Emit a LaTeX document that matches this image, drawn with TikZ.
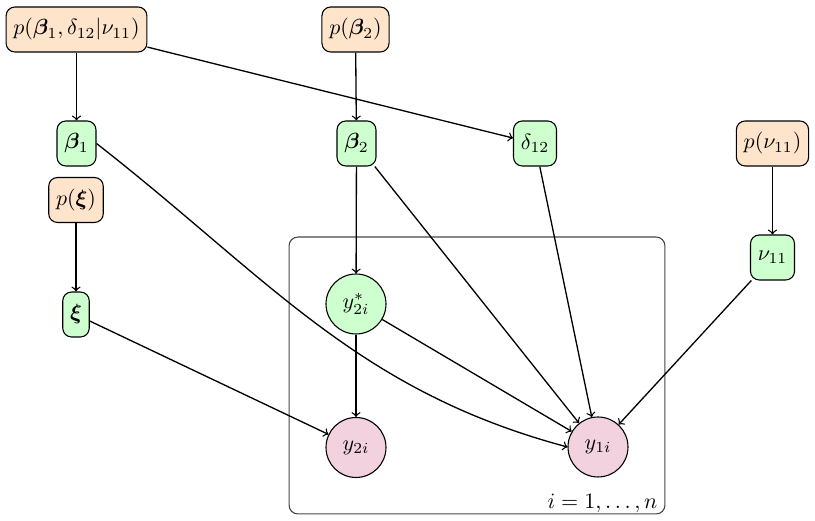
\documentclass[tikz,border=0pt]{standalone}
\usepackage{bm}
\usetikzlibrary{arrows}
\definecolor{priorc}{RGB}{255,228,204}
\definecolor{paramc}{RGB}{206,255,206}
\definecolor{obsc}{RGB}{243,210,223}
\definecolor{platec}{RGB}{70,70,70}
\tikzset{
  prior/.style={draw, rectangle, rounded corners=4pt, fill=priorc, minimum height=0.72cm, inner sep=0.3333em, line width=0.5pt},
  param/.style={draw, rectangle, rounded corners=4pt, fill=paramc, minimum height=0.72cm, inner sep=0.3333em, line width=0.5pt},
  latent/.style={draw, circle, fill=paramc, minimum size=0.96cm, inner sep=0pt, line width=0.5pt},
  obs/.style={draw, circle, fill=obsc, minimum size=0.96cm, inner sep=0pt, line width=0.5pt},
  plate/.style={draw=platec, rectangle, rounded corners=4pt, line width=0.5pt, minimum width=6.016cm, minimum height=4.432cm},
  conn/.style={->, line width=0.6pt}
}
\begin{document}
\begin{tikzpicture}[x=0.016cm, y=-0.016cm]
\useasboundingbox (0,0) rectangle (815,521);
\node[plate] (plate) at (477,375.5) {};
\node[anchor=south east, inner xsep=3.5pt, inner ysep=0.6pt] (platelab) at (plate.south east) {$i=1,\ldots,n$};
\node[prior] (pb1) at (76.5,29.5) {$p(\bm{\beta}_1,\delta_{12}|\nu_{11})$};
\node[prior] (pb2) at (355.5,29.5) {$p(\bm{\beta}_2)$};
\node[prior] (pxi) at (76,200) {$p(\bm{\xi})$};
\node[prior] (pnu) at (772.5,143.5) {$p(\nu_{11})$};
\node[param] (b1) at (76.5,143.5) {$\bm{\beta}_1$};
\node[param] (b2) at (356.5,143.5) {$\bm{\beta}_2$};
\node[param] (d12) at (535,143.5) {$\delta_{12}$};
\node[param] (nu) at (772.5,257.5) {$\nu_{11}$};
\node[param] (xi) at (76,314.5) {$\bm{\xi}$};
\node[latent] (ys) at (356,304) {$y_{2i}^{*}$};
\node[obs] (y2) at (356,447.5) {$y_{2i}$};
\node[obs] (y1) at (598,447) {$y_{1i}$};
\draw[conn] (pb1) -- (b1);
\draw[conn] (pb1) -- (d12);
\draw[conn] (pb2) -- (b2);
\draw[conn] (pxi) -- (xi);
\draw[conn] (pnu) -- (nu);
\draw[conn] (b1.east) to[out=-38, in=165] (y1.west);
\draw[conn] (b2) -- (ys);
\draw[conn] (b2) -- (y1);
\draw[conn] (d12) -- (y1);
\draw[conn] (nu) -- (y1);
\draw[conn] (ys) -- (y1);
\draw[conn] (ys) -- (y2);
\draw[conn] (xi) -- (y2);
\end{tikzpicture}
\end{document}
